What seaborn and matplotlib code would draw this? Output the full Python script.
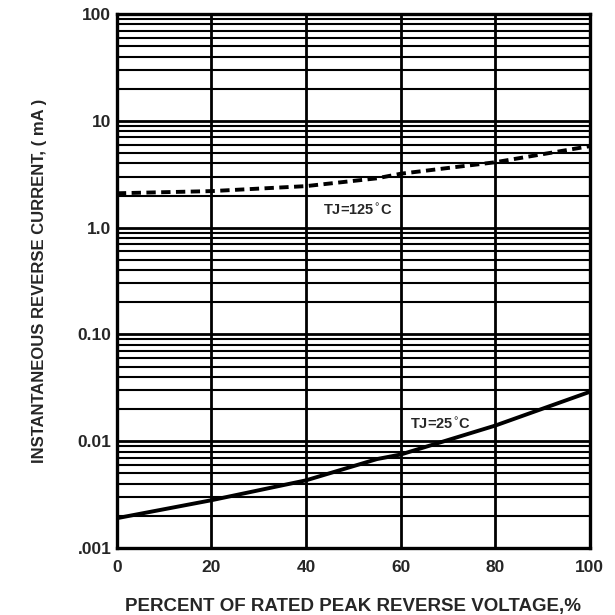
import matplotlib
matplotlib.use("Agg")
import matplotlib.pyplot as plt
import seaborn as sns
import numpy as np
import pandas as pd
from matplotlib.ticker import LogLocator, FixedLocator, FixedFormatter, NullFormatter

# Data
volt_pct = [0, 20, 40, 55, 60, 80, 100]
i_125 = [2.1, 2.2, 2.45, 2.9, 3.2, 4.1, 5.8]
i_25 = [0.0019, 0.0028, 0.0043, 0.0068, 0.0075, 0.014, 0.029]
ytick_vals = [0.001, 0.01, 0.1, 1, 10, 100]
ytick_labels = [".001", "0.01", "0.10", "1.0", "10", "100"]
xtick_vals = [0, 20, 40, 60, 80, 100]

sns.set_theme(style="white")
plt.rcParams['font.family'] = ['Liberation Sans', 'DejaVu Sans']

df = pd.DataFrame({
    "pct": volt_pct * 2,
    "current": i_125 + i_25,
    "temp": ["125"] * len(volt_pct) + ["25"] * len(volt_pct),
})

fig = plt.figure(figsize=(6.15, 6.15), dpi=100)
ax = fig.add_axes([0.190, 0.109, 0.769, 0.868])
ax.set_yscale("log")
ax.set_xlim(0, 100)
ax.set_ylim(0.001, 100)

# grid
ax.yaxis.set_major_locator(FixedLocator(ytick_vals))
ax.yaxis.set_major_formatter(FixedFormatter(ytick_labels))
ax.yaxis.set_minor_locator(LogLocator(base=10, subs=np.arange(2, 10)))
ax.yaxis.set_minor_formatter(NullFormatter())
ax.set_xticks(xtick_vals)
ax.grid(True, which="major", axis="both", color="black", linewidth=2.0)
ax.grid(True, which="minor", axis="y", color="black", linewidth=1.5)
ax.tick_params(axis="y", which="both", length=0, labelsize=12.5, pad=4)
ax.tick_params(axis="x", which="both", length=0, labelsize=12.5, pad=9)
for lbl in ax.get_xticklabels() + ax.get_yticklabels():
    lbl.set_fontweight("bold")

sns.lineplot(data=df[df.temp == "125"], x="pct", y="current", ax=ax,
             color="black", linewidth=2.8, linestyle=(0, (2.4, 1.4)), legend=False)
sns.lineplot(data=df[df.temp == "25"], x="pct", y="current", ax=ax,
             color="black", linewidth=2.8, legend=False)

for s in ax.spines.values():
    s.set_color("black")
    s.set_linewidth(2.4)

ax.text(50.8, 1.45, "TJ=125$^{\\circ}$C", fontsize=10.5, fontweight="bold",
        ha="center", va="center")
ax.text(68.5, 0.0145, "TJ=25$^{\\circ}$C", fontsize=10.5, fontweight="bold",
        ha="center", va="center")

ax.set_xlabel("PERCENT OF RATED PEAK REVERSE VOLTAGE,%", fontsize=13.5,
              fontweight="bold", labelpad=16)
ax.set_ylabel("INSTANTANEOUS REVERSE CURRENT, ( mA )", fontsize=12,
              fontweight="bold", labelpad=22)

fig.savefig("out.png", dpi=100, facecolor="white")
